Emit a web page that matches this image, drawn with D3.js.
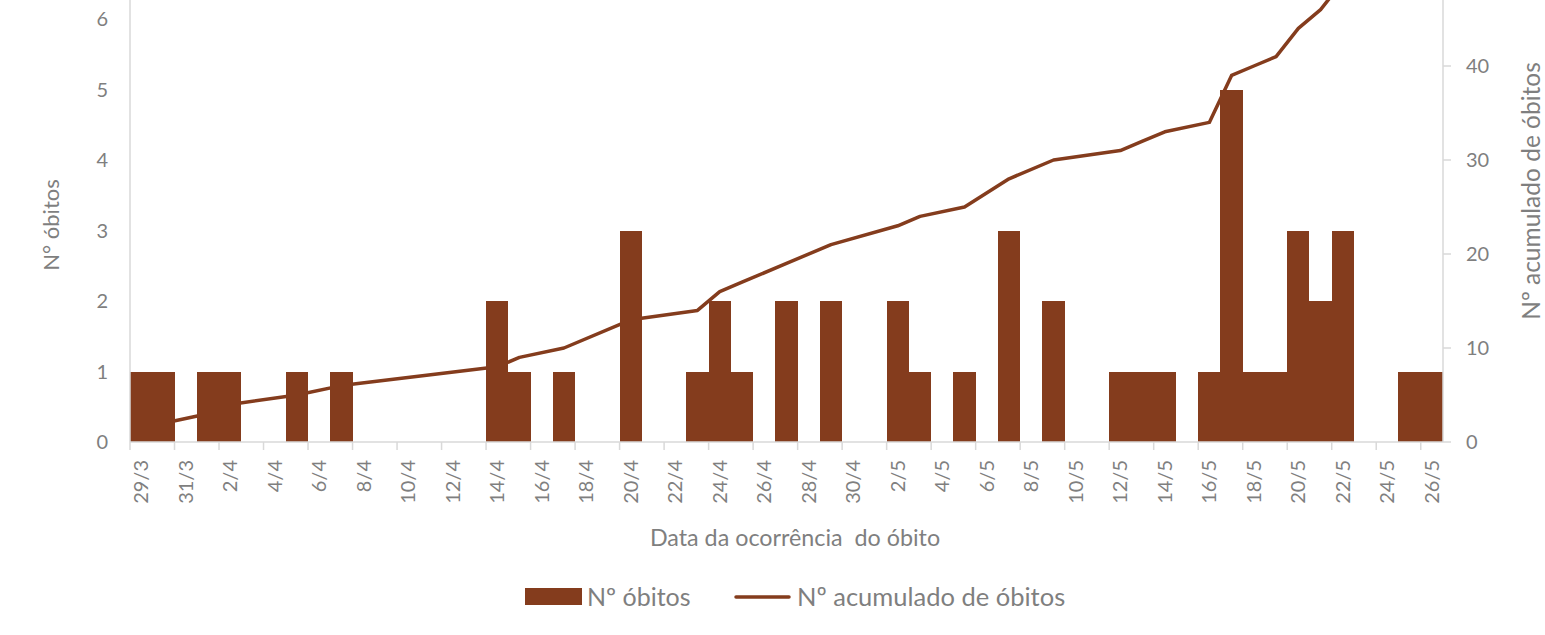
<!DOCTYPE html>
<html>
<head>
<meta charset="utf-8">
<script src="https://cdn.jsdelivr.net/npm/d3@7"></script>
<style>
  body { margin: 0; background: #fff; }
  text { font-family: Lato, "Open Sans", sans-serif; fill: #7f7f7f; }
</style>
</head>
<body>
<svg class="chart" width="1545" height="635"></svg>
<script>
// one entry per day, 29/3 .. 26/5
const days = ["29/3","30/3","31/3",
  "1/4","2/4","3/4","4/4","5/4","6/4","7/4","8/4","9/4","10/4","11/4","12/4","13/4","14/4","15/4",
  "16/4","17/4","18/4","19/4","20/4","21/4","22/4","23/4","24/4","25/4","26/4","27/4","28/4","29/4","30/4",
  "1/5","2/5","3/5","4/5","5/5","6/5","7/5","8/5","9/5","10/5","11/5","12/5","13/5","14/5","15/5",
  "16/5","17/5","18/5","19/5","20/5","21/5","22/5","23/5","24/5","25/5","26/5"]

const deaths = [1,1,0,
  1,1,0,0,1,0,1,0,0,0,0,0,0,2,1,
  0,1,0,0,3,0,0,1,2,1,0,2,0,2,0,
  0,2,1,0,1,0,3,0,2,0,0,1,1,1,0,
  1,5,1,1,3,2,3,0,0,1,1]

// cumulative series only exists on days with a death (line joins those points)
const lineDays = ["29/3","30/3","1/4","2/4","5/4","7/4","14/4","15/4","17/4","20/4","23/4","24/4",
  "25/4","27/4","29/4","2/5","3/5","5/5","7/5","9/5","12/5","13/5","14/5","16/5","17/5","18/5",
  "19/5","20/5","21/5","22/5","25/5","26/5"]
const lineTotals = [1,2,3,4,5,6,8,9,10,13,14,16,17,19,21,23,24,25,28,30,31,32,33,34,39,40,41,44,46,49,50,51]

const leftTicks = [0,1,2,3,4,5,6]
const rightTicks = [0,10,20,30,40]

const color = "#843c1d"
const axisColor = "#d9d9d9"

function renderChart() {
  const svg = d3.select(".chart")
  const left = 130, right = 1443, bottom = 442, top = -122

  const x = d3.scaleBand()
    .domain(days)
    .range([left, right])
    .padding(0)

  const yL = d3.scaleLinear().domain([0, 8]).range([bottom, top])
  const yR = d3.scaleLinear().domain([0, 60]).range([bottom, top])

  // cumulative line, drawn under the bars
  const line = d3.line()
    .x((d, i) => x(d) + x.bandwidth() / 2)
    .y((d, i) => yR(lineTotals[i]))

  svg.append("path")
    .datum(lineDays)
    .attr("fill", "none")
    .attr("stroke", color)
    .attr("stroke-width", 3.5)
    .attr("stroke-linejoin", "round")
    .attr("d", line)

  svg.selectAll(".bar")
    .data(days.filter((d, i) => deaths[i] > 0))
    .enter().append("rect")
    .attr("class", "bar")
    .attr("x", d => x(d))
    .attr("width", x.bandwidth())
    .attr("y", d => yL(deaths[days.indexOf(d)]))
    .attr("height", d => bottom - yL(deaths[days.indexOf(d)]))
    .attr("fill", color)
    .attr("shape-rendering", "crispEdges")

  // x axis
  const shown = days.filter((d, i) => i % 2 == 0)
  const xAxis = svg.append("g")
    .attr("transform", `translate(0,${bottom})`)
    .call(d3.axisBottom(x).tickValues(shown).tickSize(0).tickPadding(0))
  xAxis.select(".domain").remove()
  xAxis.selectAll("text")
    .attr("transform", "rotate(-90)")
    .attr("x", -18)
    .attr("y", 0)
    .attr("dy", "0.35em")
    .attr("text-anchor", "end")
    .style("font-size", "20px")
    .style("fill", "#7f7f7f")

  svg.append("line")
    .attr("x1", left).attr("x2", right)
    .attr("y1", bottom).attr("y2", bottom)
    .attr("stroke", axisColor).attr("stroke-width", 1.5)

  svg.selectAll(".xtick")
    .data(shown)
    .enter().append("line")
    .attr("class", "xtick")
    .attr("x1", d => x(d)).attr("x2", d => x(d))
    .attr("y1", bottom).attr("y2", bottom + 8)
    .attr("stroke", axisColor).attr("stroke-width", 1.5)

  // left axis
  svg.append("line")
    .attr("x1", left).attr("x2", left)
    .attr("y1", bottom).attr("y2", top)
    .attr("stroke", axisColor).attr("stroke-width", 1.5)

  svg.selectAll(".ltick")
    .data(leftTicks)
    .enter().append("text")
    .attr("class", "ltick")
    .attr("x", 108)
    .attr("y", d => yL(d))
    .attr("dy", "0.35em")
    .attr("text-anchor", "end")
    .style("font-size", "20px")
    .text(d => d)

  // right axis
  svg.append("line")
    .attr("x1", right).attr("x2", right)
    .attr("y1", bottom).attr("y2", top)
    .attr("stroke", axisColor).attr("stroke-width", 1.5)

  svg.selectAll(".rtickmark")
    .data(rightTicks)
    .enter().append("line")
    .attr("class", "rtickmark")
    .attr("x1", right).attr("x2", right + 8)
    .attr("y1", d => yR(d)).attr("y2", d => yR(d))
    .attr("stroke", axisColor).attr("stroke-width", 1.5)

  svg.selectAll(".rtick")
    .data(rightTicks)
    .enter().append("text")
    .attr("class", "rtick")
    .attr("x", 1466)
    .attr("y", d => yR(d))
    .attr("dy", "0.35em")
    .style("font-size", "20px")
    .text(d => d)

  // axis titles
  svg.append("text")
    .attr("transform", "translate(51,225) rotate(-90)")
    .attr("text-anchor", "middle")
    .attr("dy", "0.35em")
    .style("font-size", "22px")
    .text("N° óbitos")

  svg.append("text")
    .attr("transform", "translate(1531,191) rotate(-90)")
    .attr("text-anchor", "middle")
    .attr("dy", "0.35em")
    .style("font-size", "24.5px")
    .text("Nº acumulado de óbitos")

  svg.append("text")
    .attr("x", 795)
    .attr("y", 538)
    .attr("text-anchor", "middle")
    .attr("dy", "0.35em")
    .style("font-size", "23.3px")
    .style("white-space", "pre")
    .text("Data da ocorrência  do óbito")

  // legend
  const legend = svg.append("g")
  legend.append("rect")
    .attr("x", 525).attr("y", 588)
    .attr("width", 57).attr("height", 17)
    .attr("fill", color)
  legend.append("text")
    .attr("x", 587).attr("y", 597)
    .attr("dy", "0.35em")
    .style("font-size", "25px")
    .text("Nº óbitos")
  legend.append("line")
    .attr("x1", 736).attr("x2", 789)
    .attr("y1", 597).attr("y2", 597)
    .attr("stroke", color).attr("stroke-width", 3.5)
    .attr("stroke-linecap", "round")
  legend.append("text")
    .attr("x", 797).attr("y", 597)
    .attr("dy", "0.35em")
    .style("font-size", "25.5px")
    .text("Nº acumulado de óbitos")
}

window.addEventListener("load", renderChart)
</script>
</body>
</html>
